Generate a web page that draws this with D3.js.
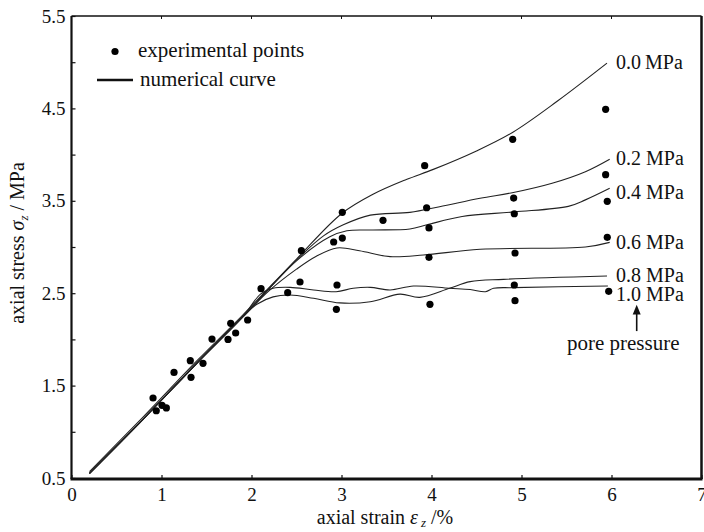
<!DOCTYPE html>
<html><head><meta charset="utf-8">
<script src="https://cdn.jsdelivr.net/npm/d3@7"></script>
<style>
html,body{margin:0;padding:0;background:#fff;}
svg{display:block;}
text{font-family:"Liberation Serif","Times New Roman",serif;fill:#111;}
</style></head>
<body>
<svg id="chart" width="704" height="532"></svg>
<script>
// ---------------- data ----------------
const xTicks = [0,1,2,3,4,5,6,7];
const yTicks = [0.5,1.0,1.5,2.0,2.5,3.0,3.5,4.0,4.5,5.0,5.5];
const yTickLabels = ["0.5","","1.5","","2.5","","3.5","","4.5","","5.5"];

const expPoints = [
  [0.906,1.366],[0.942,1.228],[1.006,1.286],[1.054,1.258],[1.139,1.643],
  [1.32,1.77],[1.328,1.59],[1.461,1.741],[1.561,2.004],[1.739,2.0],
  [1.769,2.174],[1.824,2.069],[1.957,2.21],[2.106,2.549],[2.402,2.506],
  [2.539,2.621],[2.95,2.589],[2.943,2.325],[2.554,2.96],[3.009,3.375],
  [2.913,3.054],[3.009,3.097],[3.461,3.289],
  [3.924,3.88],[3.946,3.425],[3.972,3.206],[3.972,2.888],[3.983,2.38],
  [4.902,4.165],[4.913,3.53],[4.92,3.36],[4.928,2.935],[4.92,2.589],[4.928,2.419],
  [5.935,4.49],[5.935,3.783],[5.953,3.494],[5.953,3.105],[5.969,2.52]
];

const curve00 = [[0.2,0.57],[0.8,1.165],[1.4,1.775],[1.9,2.26],[2.5,2.87],[3.0,3.36],[3.35,3.57],[3.72,3.73],[4.02,3.84],[4.5,4.04],[4.9,4.24],[5.4,4.58],[5.95,4.99]];
const curve02 = [[0.2,0.55],[0.8,1.14],[1.4,1.75],[1.9,2.24],[2.5,2.86],[2.8,3.12],[3.02,3.24],[3.32,3.345],[3.76,3.375],[4.09,3.436],[4.54,3.527],[4.91,3.59],[5.34,3.69],[5.71,3.815],[5.98,3.95]];
const curve04 = [[0.2,0.55],[0.8,1.14],[1.4,1.75],[1.9,2.24],[2.5,2.85],[2.87,3.11],[3.06,3.176],[3.35,3.184],[3.76,3.195],[3.95,3.24],[4.34,3.33],[4.92,3.38],[5.52,3.44],[5.71,3.51],[5.98,3.635]];
const curve06 = [[0.2,0.55],[0.8,1.14],[1.4,1.75],[1.9,2.24],[2.2,2.53],[2.5,2.76],[2.72,2.90],[2.95,2.99],[3.2,2.96],[3.54,2.896],[3.91,2.913],[4.54,2.976],[5.71,3.0],[5.98,3.05]];
const curve08 = [[0.2,0.55],[0.8,1.14],[1.4,1.75],[1.9,2.24],[2.06,2.38],[2.24,2.46],[2.43,2.48],[2.69,2.445],[2.98,2.395],[3.32,2.408],[3.65,2.49],[3.87,2.455],[4.2,2.553],[4.43,2.625],[4.8,2.65],[5.95,2.686]];
const curve10 = [[0.2,0.55],[0.8,1.14],[1.4,1.75],[1.9,2.24],[2.1,2.49],[2.24,2.553],[2.43,2.563],[2.69,2.535],[2.94,2.516],[3.13,2.553],[3.32,2.563],[3.54,2.535],[3.8,2.578],[4.2,2.553],[4.43,2.54],[4.6,2.516],[4.69,2.553],[4.91,2.56],[5.96,2.578]];

const curveLabels = ["0.0\u2009MPa","0.2 MPa","0.4 MPa","0.6 MPa","0.8 MPa","1.0 MPa"];
const curveLabelY = [5.00,3.963,3.595,3.054,2.697,2.491];
const curves = [curve00,curve02,curve04,curve06,curve08,curve10];

// ---------------- layout ----------------
const svg = d3.select("#chart");
const x = d3.scaleLinear().domain([0,7]).range([71.5,701.5]);
const y = d3.scaleLinear().domain([0.5,5.5]).range([478,16]);

// axes
const xAxis = d3.axisBottom(x).tickValues(xTicks).tickFormat(d3.format("d"))
  .tickSizeInner(-4).tickSizeOuter(0).tickPadding(9);
const gx = svg.append("g").attr("transform","translate(0,479)").call(xAxis);
const yAxis = d3.axisLeft(y).tickValues(yTicks).tickFormat((d,i)=>yTickLabels[i])
  .tickSizeInner(-4).tickSizeOuter(0).tickPadding(6);
const gy = svg.append("g").attr("transform","translate(71.5,0)").call(yAxis);
[gx,gy].forEach(g=>{
  g.select(".domain").remove();
  g.selectAll(".tick line").attr("stroke","#111").attr("stroke-width",1.2);
  g.selectAll(".tick text").style("font-family",'"Liberation Serif",serif').style("font-size","19px").attr("fill","#111");
});
// top mirror ticks
svg.append("g").selectAll("line").data(xTicks.slice(1,-1)).join("line")
  .attr("x1",d=>x(d)).attr("x2",d=>x(d)).attr("y1",16).attr("y2",19)
  .attr("stroke","#111").attr("stroke-width",1);

// frame
const fr = svg.append("g").attr("stroke","#111").attr("fill","none");
fr.append("line").attr("x1",x(0)).attr("x2",x(7)).attr("y1",y(5.5)).attr("y2",y(5.5)).attr("stroke-width",1.5);
fr.append("line").attr("x1",x(7)).attr("x2",x(7)).attr("y1",y(5.5)).attr("y2",y(0.5)+1).attr("stroke-width",2.5);
fr.append("line").attr("x1",x(0)).attr("x2",x(0)).attr("y1",y(5.5)).attr("y2",y(0.5)+1).attr("stroke-width",2.2);
fr.append("line").attr("x1",x(0)-1).attr("x2",x(7)+1).attr("y1",479).attr("y2",479).attr("stroke-width",2.8);

// curves
const line = d3.line().x(d=>x(d[0])).y(d=>y(d[1])).curve(d3.curveCatmullRom.alpha(0.5));
svg.append("g").selectAll("path").data(curves).join("path")
  .attr("d",line).attr("fill","none").attr("stroke","#222").attr("stroke-width",1.1);

// experimental points
svg.append("g").selectAll("circle").data(expPoints).join("circle")
  .attr("cx",d=>x(d[0])).attr("cy",d=>y(d[1])).attr("r",3.6).attr("fill","#000");

// curve labels
svg.append("g").selectAll("text").data(curveLabels).join("text")
  .attr("x",x(6.05)).attr("y",(d,i)=>y(curveLabelY[i])).attr("dy","0.35em")
  .style("font-size","20px").text(d=>d);

// pore pressure arrow
const ax = x(6.28);
svg.append("line").attr("x1",ax).attr("x2",ax).attr("y1",y(2.09)).attr("y2",y(2.32))
  .attr("stroke","#111").attr("stroke-width",1.6);
svg.append("path").attr("d",`M${ax},${y(2.375)} L${ax-4},${y(2.27)} L${ax+4},${y(2.27)} Z`).attr("fill","#111");
svg.append("text").attr("x",x(6.13)).attr("y",y(1.88)).attr("text-anchor","middle")
  .style("font-size","21px").text("pore pressure");

// legend
svg.append("circle").attr("cx",115).attr("cy",51.5).attr("r",3.6).attr("fill","#000");
svg.append("text").attr("x",138).attr("y",57).style("font-size","21px").text("experimental points");
svg.append("line").attr("x1",97).attr("x2",133).attr("y1",80).attr("y2",80).attr("stroke","#111").attr("stroke-width",2.4);
svg.append("text").attr("x",140).attr("y",86).style("font-size","21px").text("numerical curve");

// axis titles
const xt = svg.append("text").attr("x",385).attr("y",524).attr("text-anchor","middle").style("font-size","20px");
xt.append("tspan").text("axial strain ");
xt.append("tspan").style("font-style","italic").text("ε");
xt.append("tspan").style("font-style","italic").style("font-size","13px").attr("dx","3").attr("dy","3").text("z");
xt.append("tspan").attr("dy","-3").text(" /%");

const yt = svg.append("text").attr("transform","translate(24,243) rotate(-90)").attr("text-anchor","middle").style("font-size","20px");
yt.append("tspan").text("axial stress ");
yt.append("tspan").style("font-style","italic").text("σ");
yt.append("tspan").style("font-style","italic").style("font-size","13px").attr("dy","4").text("z");
yt.append("tspan").attr("dy","-4").text(" / MPa");
</script>
</body></html>
